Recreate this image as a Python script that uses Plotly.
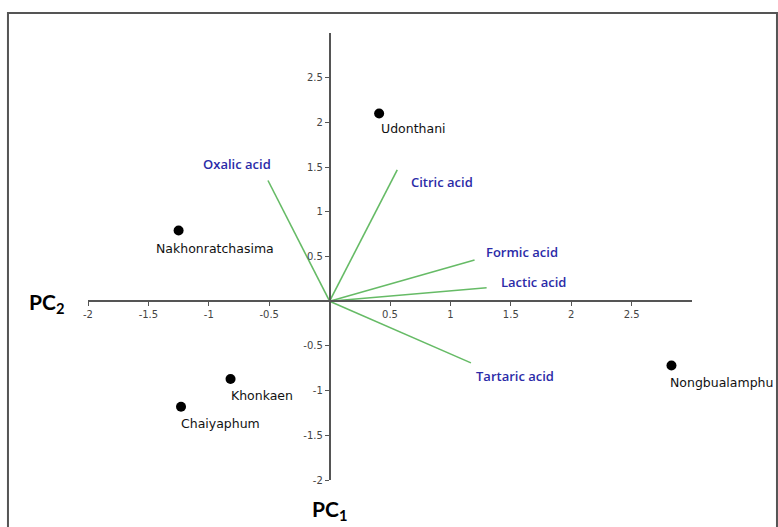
import plotly.graph_objects as go

# Sample scores (PC1, PC2)
provinces = ["Udonthani", "Nakhonratchasima", "Khonkaen", "Chaiyaphum", "Nongbualamphu"]
pc1_scores = [0.41, -1.25, -0.82, -1.23, 2.83]
pc2_scores = [2.10, 0.79, -0.87, -1.18, -0.72]

# Variable loadings (PC1, PC2)
acids = ["Oxalic acid", "Citric acid", "Formic acid", "Lactic acid", "Tartaric acid"]
pc1_loadings = [-0.51, 0.56, 1.20, 1.30, 1.17]
pc2_loadings = [1.35, 1.47, 0.46, 0.15, -0.69]

x_ticks = [-2, -1.5, -1, -0.5, 0.5, 1, 1.5, 2, 2.5]
y_ticks = [-2, -1.5, -1, -0.5, 0.5, 1, 1.5, 2, 2.5]

# label offsets in pixels (style only)
prov_shift = [(0, -15), (-25, -18), (-2, -17), (-2, -17), (-3, -17)]
acid_shift = [(-67, 17), (12, -12), (9, 8), (12, 6), (3, -13)]

fig = go.Figure()

for name, lx, ly in zip(acids, pc1_loadings, pc2_loadings):
    fig.add_trace(go.Scatter(x=[0, lx], y=[0, ly], mode="lines",
                             line=dict(color="#66bb66", width=1.6),
                             showlegend=False, hoverinfo="skip"))

fig.add_trace(go.Scatter(x=pc1_scores, y=pc2_scores, mode="markers",
                         marker=dict(color="black", size=10),
                         showlegend=False, text=provinces))

for name, px, py, (dx, dy) in zip(provinces, pc1_scores, pc2_scores, prov_shift):
    fig.add_annotation(x=px, y=py, text=name, showarrow=False, xanchor="left",
                       yanchor="middle", xshift=dx, yshift=dy,
                       font=dict(family="DejaVu Sans", size=12.5, color="#111"))

for name, lx, ly, (dx, dy) in zip(acids, pc1_loadings, pc2_loadings, acid_shift):
    fig.add_annotation(x=lx, y=ly, text=name, showarrow=False, xanchor="left",
                       yanchor="middle", xshift=dx, yshift=dy,
                       font=dict(family="Open Sans", size=13, color="#2b2ba8", weight=600))

fig.add_annotation(xref="paper", yref="paper", x=-0.068, y=0.396, text="PC<sub>2</sub>",
                   xanchor="center", yanchor="middle",
                   showarrow=False, font=dict(family="Lato", size=21, color="black", weight="bold"))
fig.add_annotation(xref="paper", yref="paper", x=0.4, y=-0.066, text="PC<sub>1</sub>",
                   xanchor="center", yanchor="middle",
                   showarrow=False, font=dict(family="Lato", size=21, color="black", weight="bold"))

fig.add_shape(type="rect", xref="paper", yref="paper", x0=-0.1325, y0=-0.12,
              x1=1.1407, y1=1.0447, line=dict(color="#555", width=2), layer="below")

axis_common = dict(showgrid=False, zeroline=False, showline=True, linecolor="#555",
                   linewidth=1.6, ticks="outside", ticklen=4, tickwidth=1.2, tickcolor="#555",
                   tickfont=dict(family="DejaVu Sans", size=10, color="#444"),
                   anchor="free", position=0.4, fixedrange=True)

fig.update_layout(
    width=778, height=527,
    margin=dict(l=88, r=86, t=33, b=47),
    paper_bgcolor="white", plot_bgcolor="white",
    xaxis=dict(range=[-2, 3], tickvals=x_ticks, ticktext=[f"{v:g}" for v in x_ticks], **axis_common),
    yaxis=dict(range=[-2, 3], tickvals=y_ticks, ticktext=[f"{v:g}" for v in y_ticks], **axis_common),
)

fig.write_html("out.html", config={"displayModeBar": False},
               post_script="document.body.style.margin='0';")
